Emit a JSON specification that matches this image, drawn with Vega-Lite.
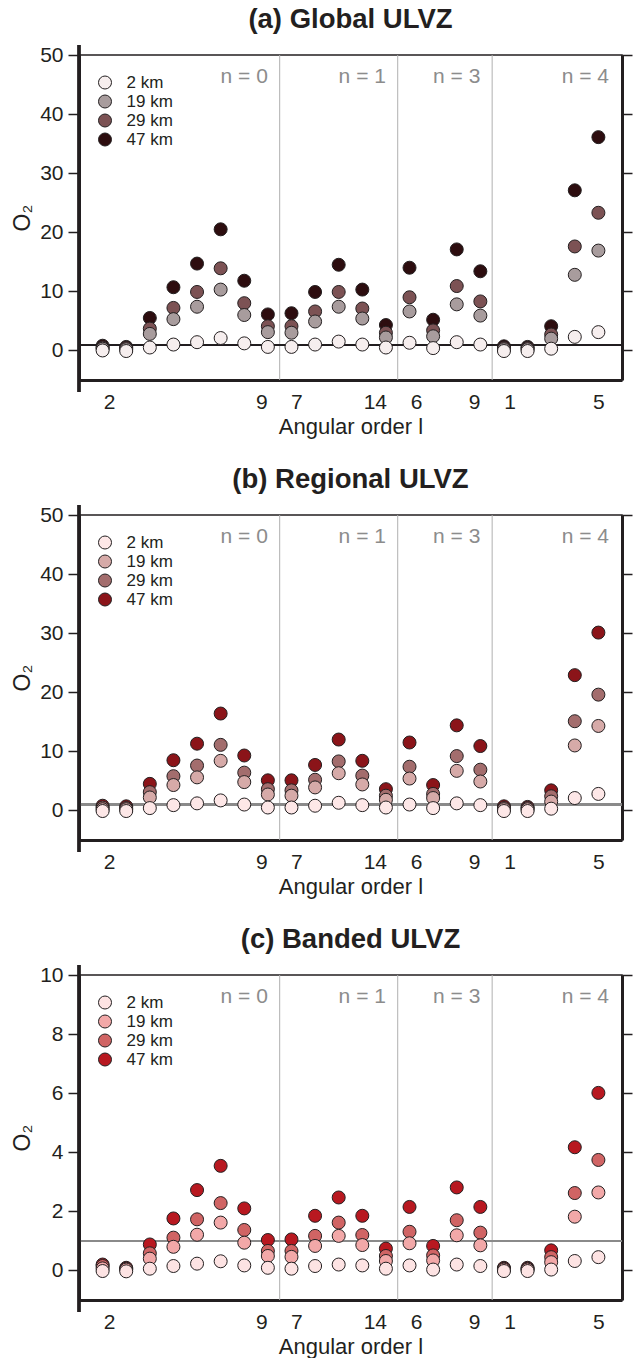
{
  "$schema": "https://vega.github.io/schema/vega-lite/v6.json",
  "padding": {"left": 10, "top": 5, "right": 0, "bottom": 0},
  "config": {
    "font": "Liberation Sans",
    "view": {"stroke": "#231f20", "strokeWidth": 1.5},
    "axis": {"labelFont": "Liberation Sans", "titleFont": "Liberation Sans", "labelColor": "#231f20", "titleColor": "#231f20", "grid": false, "titleFontWeight": "normal"},
    "legend": {"labelFont": "Liberation Sans", "labelColor": "#231f20"},
    "title": {"font": "Liberation Sans", "color": "#231f20"}
  },
  "datasets": {
    "a": [
      {"x": 1, "47 km": 0.8, "29 km": 0.5, "19 km": 0.3, "2 km": 0.0},
      {"x": 2, "47 km": 0.6, "29 km": 0.4, "19 km": 0.2, "2 km": -0.1},
      {"x": 3, "47 km": 5.5, "29 km": 3.7, "19 km": 2.8, "2 km": 0.5},
      {"x": 4, "47 km": 10.7, "29 km": 7.2, "19 km": 5.3, "2 km": 1.0},
      {"x": 5, "47 km": 14.7, "29 km": 9.9, "19 km": 7.4, "2 km": 1.4},
      {"x": 6, "47 km": 20.5, "29 km": 13.9, "19 km": 10.3, "2 km": 2.1},
      {"x": 7, "47 km": 11.8, "29 km": 8.0, "19 km": 6.0, "2 km": 1.2},
      {"x": 8, "47 km": 6.1, "29 km": 4.1, "19 km": 3.1, "2 km": 0.6},
      {"x": 9, "47 km": 6.3, "29 km": 4.1, "19 km": 3.0, "2 km": 0.6},
      {"x": 10, "47 km": 9.9, "29 km": 6.6, "19 km": 4.9, "2 km": 1.0},
      {"x": 11, "47 km": 14.5, "29 km": 9.9, "19 km": 7.4, "2 km": 1.5},
      {"x": 12, "47 km": 10.3, "29 km": 7.1, "19 km": 5.4, "2 km": 1.0},
      {"x": 13, "47 km": 4.3, "29 km": 3.0, "19 km": 2.2, "2 km": 0.5},
      {"x": 14, "47 km": 14.0, "29 km": 9.0, "19 km": 6.6, "2 km": 1.3},
      {"x": 15, "47 km": 5.2, "29 km": 3.4, "19 km": 2.4, "2 km": 0.4},
      {"x": 16, "47 km": 17.1, "29 km": 10.9, "19 km": 7.8, "2 km": 1.4},
      {"x": 17, "47 km": 13.4, "29 km": 8.3, "19 km": 5.9, "2 km": 1.0},
      {"x": 18, "47 km": 0.7, "29 km": 0.4, "19 km": 0.2, "2 km": -0.1},
      {"x": 19, "47 km": 0.6, "29 km": 0.4, "19 km": 0.2, "2 km": -0.1},
      {"x": 20, "47 km": 4.1, "29 km": 2.7, "19 km": 2.0, "2 km": 0.3},
      {"x": 21, "47 km": 27.1, "29 km": 17.6, "19 km": 12.8, "2 km": 2.3},
      {"x": 22, "47 km": 36.1, "29 km": 23.3, "19 km": 16.9, "2 km": 3.1}
    ],
    "b": [
      {"x": 1, "47 km": 0.8, "29 km": 0.5, "19 km": 0.2, "2 km": -0.1},
      {"x": 2, "47 km": 0.7, "29 km": 0.4, "19 km": 0.2, "2 km": -0.1},
      {"x": 3, "47 km": 4.5, "29 km": 3.1, "19 km": 2.2, "2 km": 0.4},
      {"x": 4, "47 km": 8.5, "29 km": 5.8, "19 km": 4.3, "2 km": 0.9},
      {"x": 5, "47 km": 11.3, "29 km": 7.6, "19 km": 5.6, "2 km": 1.2},
      {"x": 6, "47 km": 16.4, "29 km": 11.1, "19 km": 8.4, "2 km": 1.7},
      {"x": 7, "47 km": 9.3, "29 km": 6.4, "19 km": 4.8, "2 km": 1.0},
      {"x": 8, "47 km": 5.1, "29 km": 3.6, "19 km": 2.7, "2 km": 0.5},
      {"x": 9, "47 km": 5.1, "29 km": 3.4, "19 km": 2.5, "2 km": 0.5},
      {"x": 10, "47 km": 7.7, "29 km": 5.2, "19 km": 3.9, "2 km": 0.8},
      {"x": 11, "47 km": 12.0, "29 km": 8.3, "19 km": 6.3, "2 km": 1.3},
      {"x": 12, "47 km": 8.4, "29 km": 5.9, "19 km": 4.4, "2 km": 0.9},
      {"x": 13, "47 km": 3.6, "29 km": 2.5, "19 km": 1.8, "2 km": 0.5},
      {"x": 14, "47 km": 11.5, "29 km": 7.4, "19 km": 5.4, "2 km": 1.0},
      {"x": 15, "47 km": 4.3, "29 km": 2.8, "19 km": 2.1, "2 km": 0.4},
      {"x": 16, "47 km": 14.4, "29 km": 9.2, "19 km": 6.7, "2 km": 1.2},
      {"x": 17, "47 km": 10.9, "29 km": 6.9, "19 km": 4.9, "2 km": 0.9},
      {"x": 18, "47 km": 0.7, "29 km": 0.4, "19 km": 0.2, "2 km": -0.1},
      {"x": 19, "47 km": 0.6, "29 km": 0.4, "19 km": 0.2, "2 km": -0.1},
      {"x": 20, "47 km": 3.4, "29 km": 2.4, "19 km": 1.5, "2 km": 0.3},
      {"x": 21, "47 km": 22.9, "29 km": 15.1, "19 km": 11.0, "2 km": 2.1},
      {"x": 22, "47 km": 30.1, "29 km": 19.6, "19 km": 14.3, "2 km": 2.8}
    ],
    "c": [
      {"x": 1, "47 km": 0.2, "29 km": 0.15, "19 km": 0.07, "2 km": -0.02},
      {"x": 2, "47 km": 0.09, "29 km": 0.06, "19 km": 0.03, "2 km": -0.03},
      {"x": 3, "47 km": 0.88, "29 km": 0.58, "19 km": 0.4, "2 km": 0.06},
      {"x": 4, "47 km": 1.76, "29 km": 1.11, "19 km": 0.8, "2 km": 0.15},
      {"x": 5, "47 km": 2.72, "29 km": 1.73, "19 km": 1.21, "2 km": 0.23},
      {"x": 6, "47 km": 3.54, "29 km": 2.28, "19 km": 1.62, "2 km": 0.31},
      {"x": 7, "47 km": 2.1, "29 km": 1.37, "19 km": 0.94, "2 km": 0.17},
      {"x": 8, "47 km": 1.03, "29 km": 0.66, "19 km": 0.49, "2 km": 0.09},
      {"x": 9, "47 km": 1.05, "29 km": 0.66, "19 km": 0.46, "2 km": 0.06},
      {"x": 10, "47 km": 1.85, "29 km": 1.17, "19 km": 0.83, "2 km": 0.15},
      {"x": 11, "47 km": 2.47, "29 km": 1.62, "19 km": 1.17, "2 km": 0.2},
      {"x": 12, "47 km": 1.85, "29 km": 1.2, "19 km": 0.86, "2 km": 0.17},
      {"x": 13, "47 km": 0.74, "29 km": 0.49, "19 km": 0.32, "2 km": 0.06},
      {"x": 14, "47 km": 2.15, "29 km": 1.31, "19 km": 0.92, "2 km": 0.17},
      {"x": 15, "47 km": 0.83, "29 km": 0.51, "19 km": 0.34, "2 km": 0.03},
      {"x": 16, "47 km": 2.81, "29 km": 1.7, "19 km": 1.19, "2 km": 0.2},
      {"x": 17, "47 km": 2.15, "29 km": 1.28, "19 km": 0.85, "2 km": 0.15},
      {"x": 18, "47 km": 0.09, "29 km": 0.06, "19 km": 0.03, "2 km": -0.02},
      {"x": 19, "47 km": 0.09, "29 km": 0.06, "19 km": 0.03, "2 km": -0.02},
      {"x": 20, "47 km": 0.68, "29 km": 0.45, "19 km": 0.28, "2 km": 0.03},
      {"x": 21, "47 km": 4.17, "29 km": 2.62, "19 km": 1.82, "2 km": 0.32},
      {"x": 22, "47 km": 6.01, "29 km": 3.74, "19 km": 2.64, "2 km": 0.45}
    ],
    "seps": [{"s": 8.5}, {"s": 13.5}, {"s": 17.5}],
    "nlab": [{"t": "n = 0", "xr": 8}, {"t": "n = 1", "xr": 13}, {"t": "n = 3", "xr": 17}, {"t": "n = 4", "xr": 22.45}]
  },
  "spacing": 27,
  "resolve": {"scale": {"color": "independent", "x": "independent", "y": "independent"}, "legend": {"color": "independent"}},
  "vconcat": [
    {
      "width": 543, "height": 325,
      "title": {"text": "(a) Global ULVZ", "frame": "group", "anchor": "middle", "fontSize": 27.5, "fontWeight": "bold", "offset": 10},
      "layer": [
        {"data": {"name": "seps"}, "mark": {"type": "rule", "color": "#b0b0b0", "strokeWidth": 1},
         "encoding": {"x": {"field": "s", "type": "quantitative", "scale": {"domain": [0, 23], "nice": false, "zero": false}, "axis": null}}},
        {"data": {"name": "a"}, "mark": {"type": "rule", "color": "#231f20", "strokeWidth": 1.2},
         "encoding": {"y": {"datum": 1, "type": "quantitative", "scale": {"domain": [-5, 50], "nice": false, "zero": false},
           "axis": {"orient": "right", "values": [0, 10, 20, 30, 40, 50], "labels": false, "title": null, "tickSize": 10, "tickWidth": 1.5, "tickColor": "#231f20", "domainWidth": 3, "domainColor": "#231f20"}}}},
        {"data": {"name": "nlab"}, "mark": {"type": "text", "align": "right", "baseline": "middle", "fontSize": 21, "color": "#8c8c8c"},
         "encoding": {"x": {"field": "xr", "type": "quantitative", "scale": {"domain": [0, 23], "nice": false, "zero": false}, "axis": null},
           "y": {"datum": 46.3, "type": "quantitative", "scale": {"domain": [-5, 50], "nice": false, "zero": false}, "axis": null},
           "text": {"field": "t"}}},
        {"data": {"name": "a"}, "transform": [{"fold": ["47 km", "29 km", "19 km", "2 km"], "as": ["depth", "v"]}],
         "mark": {"type": "point", "filled": true, "size": 169, "stroke": "#231f20", "strokeWidth": 1, "opacity": 1},
         "encoding": {
           "x": {"field": "x", "type": "quantitative", "scale": {"domain": [0, 23], "nice": false, "zero": false},
             "axis": {"values": [1.27, 7.72, 9.21, 12.53, 14.28, 16.73, 18.24, 22], "labelExpr": "datum.value==1.27?'2':datum.value==7.72?'9':datum.value==9.21?'7':datum.value==12.53?'14':datum.value==14.28?'6':datum.value==16.73?'9':datum.value==18.24?'1':'5'", "ticks": false, "domainWidth": 3, "domainColor": "#231f20", "labelFontSize": 21, "labelPadding": 11, "labelOverlap": false, "title": "Angular order l", "titleFontSize": 22, "titlePadding": 4}},
           "y": {"field": "v", "type": "quantitative", "scale": {"domain": [-5, 50], "nice": false, "zero": false},
             "axis": {"orient": "left", "values": [0, 10, 20, 30, 40, 50], "tickSize": 11, "tickWidth": 1.5, "tickColor": "#231f20", "domainWidth": 3, "domainColor": "#231f20", "labelFontSize": 21, "labelPadding": 5, "title": "O₂", "titleFontSize": 23, "titlePadding": 5}},
           "color": {"field": "depth", "type": "nominal", "scale": {"domain": ["2 km", "19 km", "29 km", "47 km"], "range": ["#f6eeee", "#a89c9d", "#7c5254", "#2d0d0f"]},
             "legend": {"orient": "none", "legendX": 17.5, "legendY": 19, "title": null, "padding": 0, "symbolType": "circle", "symbolSize": 169, "symbolStrokeColor": "#231f20", "symbolStrokeWidth": 1, "symbolOpacity": 1, "labelFontSize": 17, "labelOffset": 13, "rowPadding": 1}}
         }},
        {"data": {"name": "seps"}, "mark": {"type": "rule", "color": "#231f20", "strokeWidth": 3},
         "encoding": {"x": {"datum": 0, "type": "quantitative", "scale": {"domain": [0, 23], "nice": false, "zero": false}, "axis": null},
           "y": {"datum": -7.03, "type": "quantitative", "scale": {"domain": [-5, 50], "nice": false, "zero": false}, "axis": null},
           "y2": {"datum": 51.7}}}
      ],
      "resolve": {"axis": {"x": "independent", "y": "independent"}}
    },
    {
      "width": 543, "height": 325,
      "title": {"text": "(b) Regional ULVZ", "frame": "group", "anchor": "middle", "fontSize": 27.5, "fontWeight": "bold", "offset": 10},
      "layer": [
        {"data": {"name": "seps"}, "mark": {"type": "rule", "color": "#b0b0b0", "strokeWidth": 1},
         "encoding": {"x": {"field": "s", "type": "quantitative", "scale": {"domain": [0, 23], "nice": false, "zero": false}, "axis": null}}},
        {"data": {"name": "b"}, "mark": {"type": "rule", "color": "#8a8a8a", "strokeWidth": 2},
         "encoding": {"y": {"datum": 1, "type": "quantitative", "scale": {"domain": [-5, 50], "nice": false, "zero": false},
           "axis": {"orient": "right", "values": [0, 10, 20, 30, 40, 50], "labels": false, "title": null, "tickSize": 10, "tickWidth": 1.5, "tickColor": "#231f20", "domainWidth": 3, "domainColor": "#231f20"}}}},
        {"data": {"name": "nlab"}, "mark": {"type": "text", "align": "right", "baseline": "middle", "fontSize": 21, "color": "#8c8c8c"},
         "encoding": {"x": {"field": "xr", "type": "quantitative", "scale": {"domain": [0, 23], "nice": false, "zero": false}, "axis": null},
           "y": {"datum": 46.3, "type": "quantitative", "scale": {"domain": [-5, 50], "nice": false, "zero": false}, "axis": null},
           "text": {"field": "t"}}},
        {"data": {"name": "b"}, "transform": [{"fold": ["47 km", "29 km", "19 km", "2 km"], "as": ["depth", "v"]}],
         "mark": {"type": "point", "filled": true, "size": 169, "stroke": "#231f20", "strokeWidth": 1, "opacity": 1},
         "encoding": {
           "x": {"field": "x", "type": "quantitative", "scale": {"domain": [0, 23], "nice": false, "zero": false},
             "axis": {"values": [1.27, 7.72, 9.21, 12.53, 14.28, 16.73, 18.24, 22], "labelExpr": "datum.value==1.27?'2':datum.value==7.72?'9':datum.value==9.21?'7':datum.value==12.53?'14':datum.value==14.28?'6':datum.value==16.73?'9':datum.value==18.24?'1':'5'", "ticks": false, "domainWidth": 3, "domainColor": "#231f20", "labelFontSize": 21, "labelPadding": 11, "labelOverlap": false, "title": "Angular order l", "titleFontSize": 22, "titlePadding": 4}},
           "y": {"field": "v", "type": "quantitative", "scale": {"domain": [-5, 50], "nice": false, "zero": false},
             "axis": {"orient": "left", "values": [0, 10, 20, 30, 40, 50], "tickSize": 11, "tickWidth": 1.5, "tickColor": "#231f20", "domainWidth": 3, "domainColor": "#231f20", "labelFontSize": 21, "labelPadding": 5, "title": "O₂", "titleFontSize": 23, "titlePadding": 5}},
           "color": {"field": "depth", "type": "nominal", "scale": {"domain": ["2 km", "19 km", "29 km", "47 km"], "range": ["#fde7e7", "#d6aaa8", "#a36d6d", "#8b1419"]},
             "legend": {"orient": "none", "legendX": 17.5, "legendY": 19, "title": null, "padding": 0, "symbolType": "circle", "symbolSize": 169, "symbolStrokeColor": "#231f20", "symbolStrokeWidth": 1, "symbolOpacity": 1, "labelFontSize": 17, "labelOffset": 13, "rowPadding": 1}}
         }},
        {"data": {"name": "seps"}, "mark": {"type": "rule", "color": "#231f20", "strokeWidth": 3},
         "encoding": {"x": {"datum": 0, "type": "quantitative", "scale": {"domain": [0, 23], "nice": false, "zero": false}, "axis": null},
           "y": {"datum": -7.03, "type": "quantitative", "scale": {"domain": [-5, 50], "nice": false, "zero": false}, "axis": null},
           "y2": {"datum": 51.7}}}
      ],
      "resolve": {"axis": {"x": "independent", "y": "independent"}}
    },
    {
      "width": 543, "height": 325,
      "title": {"text": "(c) Banded ULVZ", "frame": "group", "anchor": "middle", "fontSize": 27.5, "fontWeight": "bold", "offset": 10},
      "layer": [
        {"data": {"name": "seps"}, "mark": {"type": "rule", "color": "#b0b0b0", "strokeWidth": 1},
         "encoding": {"x": {"field": "s", "type": "quantitative", "scale": {"domain": [0, 23], "nice": false, "zero": false}, "axis": null}}},
        {"data": {"name": "c"}, "mark": {"type": "rule", "color": "#8a8a8a", "strokeWidth": 2},
         "encoding": {"y": {"datum": 1, "type": "quantitative", "scale": {"domain": [-1, 10], "nice": false, "zero": false},
           "axis": {"orient": "right", "values": [0, 2, 4, 6, 8, 10], "labels": false, "title": null, "tickSize": 10, "tickWidth": 1.5, "tickColor": "#231f20", "domainWidth": 3, "domainColor": "#231f20"}}}},
        {"data": {"name": "nlab"}, "mark": {"type": "text", "align": "right", "baseline": "middle", "fontSize": 21, "color": "#8c8c8c"},
         "encoding": {"x": {"field": "xr", "type": "quantitative", "scale": {"domain": [0, 23], "nice": false, "zero": false}, "axis": null},
           "y": {"datum": 9.27, "type": "quantitative", "scale": {"domain": [-1, 10], "nice": false, "zero": false}, "axis": null},
           "text": {"field": "t"}}},
        {"data": {"name": "c"}, "transform": [{"fold": ["47 km", "29 km", "19 km", "2 km"], "as": ["depth", "v"]}],
         "mark": {"type": "point", "filled": true, "size": 169, "stroke": "#231f20", "strokeWidth": 1, "opacity": 1},
         "encoding": {
           "x": {"field": "x", "type": "quantitative", "scale": {"domain": [0, 23], "nice": false, "zero": false},
             "axis": {"values": [1.27, 7.72, 9.21, 12.53, 14.28, 16.73, 18.24, 22], "labelExpr": "datum.value==1.27?'2':datum.value==7.72?'9':datum.value==9.21?'7':datum.value==12.53?'14':datum.value==14.28?'6':datum.value==16.73?'9':datum.value==18.24?'1':'5'", "ticks": false, "domainWidth": 3, "domainColor": "#231f20", "labelFontSize": 21, "labelPadding": 11, "labelOverlap": false, "title": "Angular order l", "titleFontSize": 22, "titlePadding": 4}},
           "y": {"field": "v", "type": "quantitative", "scale": {"domain": [-1, 10], "nice": false, "zero": false},
             "axis": {"orient": "left", "values": [0, 2, 4, 6, 8, 10], "tickSize": 11, "tickWidth": 1.5, "tickColor": "#231f20", "domainWidth": 3, "domainColor": "#231f20", "labelFontSize": 21, "labelPadding": 5, "title": "O₂", "titleFontSize": 23, "titlePadding": 5}},
           "color": {"field": "depth", "type": "nominal", "scale": {"domain": ["2 km", "19 km", "29 km", "47 km"], "range": ["#fde3e3", "#f2a8a8", "#d06464", "#b81820"]},
             "legend": {"orient": "none", "legendX": 17.5, "legendY": 19, "title": null, "padding": 0, "symbolType": "circle", "symbolSize": 169, "symbolStrokeColor": "#231f20", "symbolStrokeWidth": 1, "symbolOpacity": 1, "labelFontSize": 17, "labelOffset": 13, "rowPadding": 1}}
         }},
        {"data": {"name": "seps"}, "mark": {"type": "rule", "color": "#231f20", "strokeWidth": 3},
         "encoding": {"x": {"datum": 0, "type": "quantitative", "scale": {"domain": [0, 23], "nice": false, "zero": false}, "axis": null},
           "y": {"datum": -1.41, "type": "quantitative", "scale": {"domain": [-1, 10], "nice": false, "zero": false}, "axis": null},
           "y2": {"datum": 10.34}}}
      ],
      "resolve": {"axis": {"x": "independent", "y": "independent"}}
    }
  ]
}
